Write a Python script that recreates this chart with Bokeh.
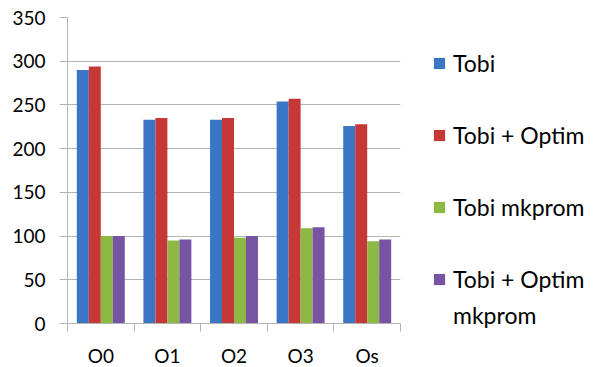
import numpy as np
from bokeh.plotting import figure
from bokeh.models import (FixedTicker, Legend, LegendItem, Range1d, ColumnDataSource)
from bokeh.embed import file_html
from bokeh.resources import INLINE

categories = ["O0", "O1", "O2", "O3", "Os"]
series_names = ["Tobi", "Tobi + Optim", "Tobi mkprom", "Tobi + Optim mkprom"]
tobi = [290, 233, 233, 254, 226]
tobi_optim = [294, 235, 235, 257, 228]
tobi_mkprom = [100, 95, 98, 109, 94]
tobi_optim_mkprom = [100, 96, 100, 110, 96]
y_ticks = [0, 50, 100, 150, 200, 250, 300, 350]

colors = ["#3A76C4", "#C63838", "#8CB843", "#7654A3"]
FONT = "Lato"
GRID = "#B4B4B4"

p = figure(frame_width=333, frame_height=306, output_backend="svg", toolbar_location=None,
           x_range=Range1d(0, len(categories)), y_range=Range1d(0, 350),
           min_border_left=67, min_border_right=206, min_border_top=17, min_border_bottom=44)
p.outline_line_color = None
p.background_fill_color = "white"
p.border_fill_color = "white"

bar_w = 0.18
offsets = [-0.27, -0.09, 0.09, 0.27]
centers = np.arange(len(categories)) + 0.5
renderers = []
for vals, off, col in zip([tobi, tobi_optim, tobi_mkprom, tobi_optim_mkprom], offsets, colors):
    src = ColumnDataSource(dict(x=centers + off, top=vals))
    r = p.vbar(x="x", top="top", bottom=0, width=bar_w, source=src,
               fill_color=col, line_color=None)
    renderers.append(r)

# invisible renderer used only for legend spacing / wrapped label line
blank = p.vbar(x=[], top=[], width=bar_w, fill_alpha=0, line_alpha=0)

# x axis: labels at centers, ticks at boundaries
p.xaxis.ticker = FixedTicker(ticks=list(centers), minor_ticks=list(range(len(categories) + 1)))
p.xaxis.major_label_overrides = {float(c): lab for c, lab in zip(centers, categories)}
p.xaxis.major_tick_out = 0
p.xaxis.major_tick_in = 0
p.xaxis.minor_tick_out = 8
p.xaxis.minor_tick_in = 0
p.xaxis.minor_tick_line_color = GRID
p.xaxis.axis_line_color = GRID
p.xaxis.major_label_standoff = 12
p.xaxis.major_label_text_font = FONT
p.xaxis.major_label_text_font_size = "19px"
p.xaxis.major_label_text_color = "#000000"

p.yaxis.ticker = FixedTicker(ticks=y_ticks)
p.yaxis.major_tick_out = 8
p.yaxis.major_tick_in = 0
p.yaxis.minor_tick_line_color = None
p.yaxis.major_tick_line_color = GRID
p.yaxis.axis_line_color = GRID
p.yaxis.major_label_standoff = 14
p.yaxis.major_label_text_font = FONT
p.yaxis.major_label_text_font_size = "19px"
p.yaxis.major_label_text_color = "#000000"

p.xgrid.grid_line_color = None
p.ygrid.ticker = FixedTicker(ticks=y_ticks)
p.ygrid.grid_line_color = GRID

# last label wraps onto a second line, as in the reference
last_words = series_names[3].rsplit(" ", 1)
items = []
for i, (name, r) in enumerate(zip(series_names, renderers)):
    if i < 3:
        items.append(LegendItem(label=name, renderers=[r]))
        items.append(LegendItem(label="\u00a0", renderers=[blank]))
    else:
        items.append(LegendItem(label=last_words[0], renderers=[r]))
        items.append(LegendItem(label=last_words[1], renderers=[blank]))

legend = Legend(items=items, location=(32, -6), orientation="vertical",
                glyph_width=14, glyph_height=14, label_standoff=7,
                spacing=8, padding=0, margin=0,
                label_text_font=FONT, label_text_font_size="23px",
                label_text_color="#000000",
                border_line_color=None, background_fill_alpha=0)
p.add_layout(legend, "right")

open("out.html", "w").write(file_html(p, INLINE))
